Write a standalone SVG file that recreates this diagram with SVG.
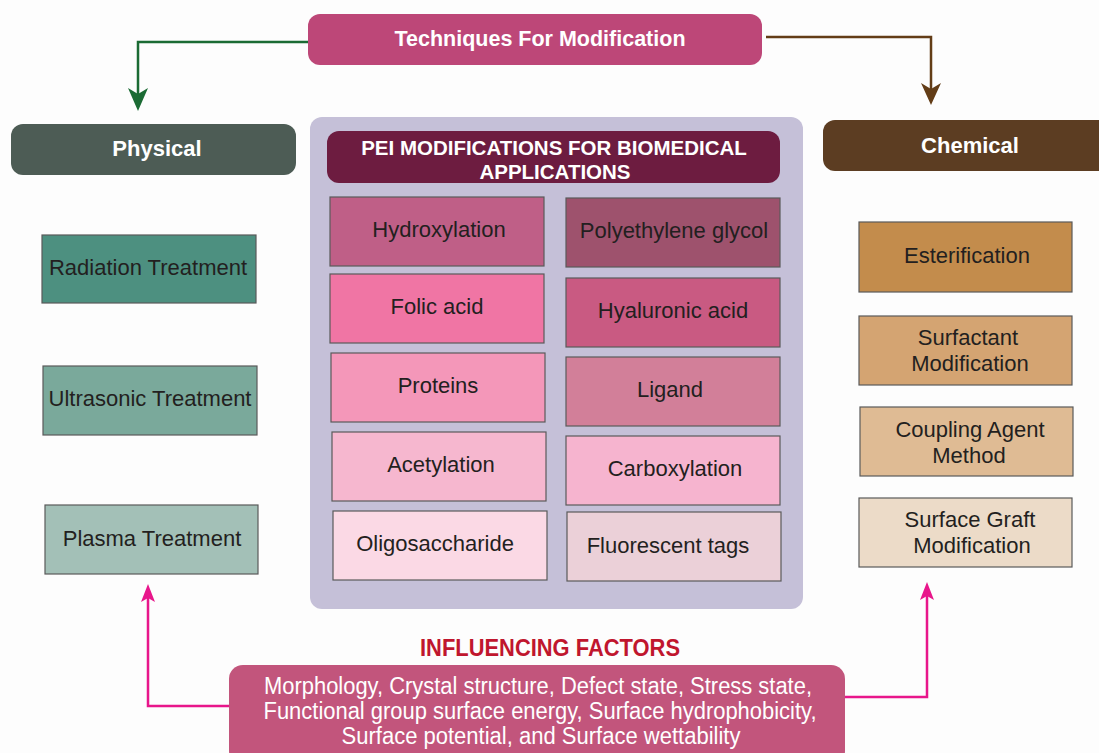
<svg xmlns="http://www.w3.org/2000/svg" width="1099" height="753" viewBox="0 0 1099 753">
<style>
.t{font-family:"Liberation Sans",Arial,sans-serif;}
.hd{font-family:"Liberation Sans",Arial,sans-serif;font-weight:bold;fill:#fff;text-anchor:middle;}
.cell{stroke:#5a5a5a;stroke-width:1.2;}
.lbl{font-family:"Liberation Sans",Arial,sans-serif;font-size:22px;fill:#231f20;text-anchor:middle;}
.conn{fill:none;stroke-width:2.5;}
</style>
<rect width="1099" height="753" fill="#fdfdfd"/>
<g id="connectors">
<path class="conn" d="M308,42 H138 V96" stroke="#1b6b34"/>
<path d="M128,88 L138,111 L148,88 L138,94 Z" fill="#1b6b34"/>
<path class="conn" d="M766,37 H931 V92" stroke="#633d17"/>
<path d="M921,83 L931,105 L941,83 L931,89 Z" fill="#633d17"/>
<path class="conn" d="M229,706 H148 V598" stroke="#e8168b"/>
<path d="M141,602 L148,584 L155,602 L148,598 Z" fill="#e8168b"/>
<path class="conn" d="M845,697 H927 V596" stroke="#e8168b"/>
<path d="M920,600 L927,582 L934,600 L927,596 Z" fill="#e8168b"/>
</g>
<g id="techniques">
<rect x="308" y="14" width="454" height="51" rx="12" fill="#bd4778"/>
<text class="hd" x="540" y="46" font-size="21.5">Techniques For Modification</text>
</g>
<g id="physical">
<rect x="11" y="124" width="285" height="51" rx="12" fill="#4d5c55"/>
<text class="hd" x="157" y="156" font-size="22">Physical</text>
</g>
<g id="chemical">
<rect x="823" y="120" width="290" height="51" rx="12" fill="#5c3d22"/>
<text class="hd" x="970" y="153" font-size="22">Chemical</text>
</g>
<g id="pei-panel">
<rect x="310" y="117" width="493" height="492" rx="12" fill="#c5c0d8"/>
<rect x="327" y="131" width="453" height="52" rx="12" fill="#6d1c40"/>
<text class="hd" x="554" y="155" font-size="20.5">PEI MODIFICATIONS FOR BIOMEDICAL</text>
<text class="hd" x="555" y="179" font-size="20.5">APPLICATIONS</text>
</g>
<g id="hydroxylation"><rect class="cell" x="330" y="197" width="214" height="69" fill="#bf5f87"/><text class="lbl" x="439" y="237">Hydroxylation</text></g>
<g id="folic-acid"><rect class="cell" x="330" y="274" width="214" height="69" fill="#f075a4"/><text class="lbl" x="437" y="314">Folic acid</text></g>
<g id="proteins"><rect class="cell" x="331" y="353" width="214" height="69" fill="#f497b9"/><text class="lbl" x="438" y="393">Proteins</text></g>
<g id="acetylation"><rect class="cell" x="332" y="432" width="214" height="69" fill="#f6b7cf"/><text class="lbl" x="441" y="472">Acetylation</text></g>
<g id="oligosaccharide"><rect class="cell" x="333" y="511" width="214" height="69" fill="#fbd9e5"/><text class="lbl" x="435" y="551">Oligosaccharide</text></g>
<g id="peg"><rect class="cell" x="566" y="198" width="214" height="69" fill="#9e526d"/><text class="lbl" x="674" y="238">Polyethylene glycol</text></g>
<g id="hyaluronic-acid"><rect class="cell" x="566" y="278" width="214" height="69" fill="#c95a82"/><text class="lbl" x="673" y="318">Hyaluronic acid</text></g>
<g id="ligand"><rect class="cell" x="566" y="357" width="214" height="69" fill="#d27f99"/><text class="lbl" x="670" y="397">Ligand</text></g>
<g id="carboxylation"><rect class="cell" x="566" y="436" width="214" height="69" fill="#f6b4cf"/><text class="lbl" x="675" y="476">Carboxylation</text></g>
<g id="fluorescent-tags"><rect class="cell" x="567" y="512" width="214" height="69" fill="#ebd0d8"/><text class="lbl" x="668" y="553">Fluorescent tags</text></g>
<g id="radiation"><rect class="cell" x="42" y="235" width="214" height="68" fill="#4d9080"/><text class="lbl" x="148" y="275">Radiation Treatment</text></g>
<g id="ultrasonic"><rect class="cell" x="43" y="366" width="214" height="69" fill="#7aa99b"/><text class="lbl" x="150" y="406">Ultrasonic Treatment</text></g>
<g id="plasma"><rect class="cell" x="45" y="505" width="213" height="69" fill="#a3c0b7"/><text class="lbl" x="152" y="546">Plasma Treatment</text></g>
<g id="esterification"><rect class="cell" x="859" y="222" width="213" height="70" fill="#c38c4c"/><text class="lbl" x="967" y="263">Esterification</text></g>
<g id="surfactant"><rect class="cell" x="859" y="316" width="213" height="69" fill="#d4a472"/><text class="lbl" x="968" y="345">Surfactant</text><text class="lbl" x="970" y="371">Modification</text></g>
<g id="coupling"><rect class="cell" x="860" y="407" width="213" height="69" fill="#dfbb94"/><text class="lbl" x="970" y="437">Coupling Agent</text><text class="lbl" x="969" y="463">Method</text></g>
<g id="surface-graft"><rect class="cell" x="859" y="498" width="213" height="69" fill="#ecdbc8"/><text class="lbl" x="970" y="527">Surface Graft</text><text class="lbl" x="972" y="553">Modification</text></g>
<g id="influencing-factors">
<text class="t" x="550" y="656" font-size="23" font-weight="bold" fill="#c0162e" text-anchor="middle" textLength="260" lengthAdjust="spacingAndGlyphs">INFLUENCING FACTORS</text>
<rect x="229" y="665" width="616" height="100" rx="14" fill="#c2557c"/>
<text class="t" x="538" y="694" font-size="23" fill="#fff" text-anchor="middle" textLength="548" lengthAdjust="spacingAndGlyphs">Morphology, Crystal structure, Defect state, Stress state,</text>
<text class="t" x="540" y="719" font-size="23" fill="#fff" text-anchor="middle" textLength="553" lengthAdjust="spacingAndGlyphs">Functional group surface energy, Surface hydrophobicity,</text>
<text class="t" x="541" y="744" font-size="23" fill="#fff" text-anchor="middle" textLength="399" lengthAdjust="spacingAndGlyphs">Surface potential, and Surface wettability</text>
</g>
</svg>
